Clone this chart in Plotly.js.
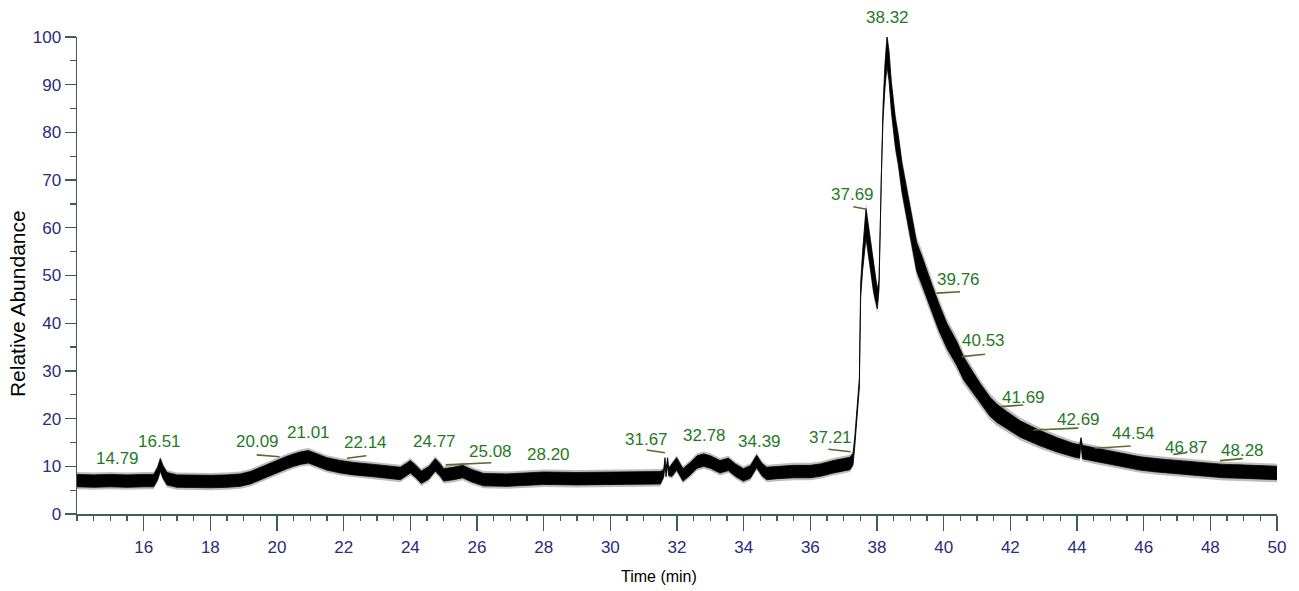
<!DOCTYPE html>
<html>
<head>
<meta charset="utf-8">
<script src="https://cdn.plot.ly/plotly-3.0.1.min.js"></script>
<style>html,body{margin:0;padding:0;background:#fff;}#chart{width:1299px;height:591px;}</style>
</head>
<body>
<div id="chart"></div>
<script>
// Retention time (min)
const time = [
  14.0,14.5,15.0,15.5,16.0,16.3,16.42,16.5,16.58,16.7,
  17.0,17.5,18.0,18.5,18.9,19.2,19.4,19.7,20.0,20.3,
  20.5,20.7,20.94,21.2,21.5,21.9,22.3,22.9,23.3,23.7,
  23.9,24.0,24.15,24.33,24.55,24.75,24.9,25.0,25.3,25.57,
  25.85,26.2,26.9,27.5,28.0,29.0,30.0,31.0,31.5,31.6,
  31.64,31.67,31.72,31.75,31.85,31.99,32.18,32.4,32.6,32.8,
  33.0,33.29,33.54,33.75,33.99,34.2,34.39,34.55,34.69,35.0,
  35.5,36.0,36.3,36.69,37.0,37.19,37.28,37.33,37.47,37.51,
  37.57,37.63,37.67,37.72,37.79,37.9,38.01,38.06,38.13,38.18,
  38.24,38.30,38.36,38.43,38.55,38.64,38.75,38.89,39.05,39.19,
  39.35,39.49,39.65,39.85,40.1,40.39,40.6,40.89,41.1,41.39,
  41.6,41.89,42.3,42.89,43.4,43.89,44.08,44.12,44.16,44.5,
  44.89,45.4,45.89,46.4,46.89,47.4,47.89,48.4,48.89,49.4,
  50.0];
// Relative abundance (centre of the noisy trace)
const abundance = [
  7.0,6.9,7.0,6.9,7.0,7.0,8.5,10.3,8.8,7.4,
  6.9,6.8,6.8,6.9,7.1,7.6,8.2,9.0,9.9,10.8,
  11.3,11.7,12.0,11.3,10.5,9.9,9.5,9.1,8.8,8.5,
  9.4,9.9,9.0,7.7,8.6,10.3,9.2,8.2,8.5,8.9,
  8.0,7.2,7.1,7.3,7.5,7.4,7.5,7.5,7.6,8.5,
  11.0,8.6,11.0,8.8,9.2,10.5,8.2,9.5,10.9,11.3,
  10.9,9.9,10.4,9.2,8.2,8.8,11.0,9.3,8.5,8.7,
  8.9,8.9,9.2,9.9,10.3,10.6,11.5,14.9,27.4,47.0,
  53.2,58.0,61.0,58.5,55.0,49.5,45.0,48.0,72.0,84.0,
  92.0,97.0,94.0,87.5,80.0,76.3,70.5,65.2,58.8,53.9,
  51.0,48.4,45.0,41.4,37.3,33.7,30.5,27.4,25.3,22.5,
  21.1,19.7,17.8,15.9,14.5,13.4,13.1,15.5,13.0,12.5,
  12.0,11.2,10.6,10.2,9.9,9.5,9.2,9.0,8.9,8.8,
  8.6];
// Half-thickness of the noise band
const noise = [
  1.3,1.3,1.3,1.3,1.3,1.3,1.3,1.3,1.3,1.3,
  1.3,1.3,1.3,1.3,1.3,1.3,1.3,1.3,1.3,1.3,
  1.3,1.3,1.3,1.3,1.3,1.3,1.3,1.3,1.3,1.3,
  1.3,1.3,1.3,1.3,1.3,1.3,1.3,1.3,1.3,1.3,
  1.3,1.3,1.3,1.3,1.3,1.3,1.3,1.3,1.3,0.8,
  0.8,0.8,0.8,0.8,1.3,1.3,1.3,1.3,1.3,1.3,
  1.3,1.3,1.3,1.3,1.3,1.3,1.3,1.3,1.3,1.3,
  1.3,1.3,1.3,1.3,1.3,1.3,1.2,1.0,1.0,1.5,
  2.0,3.0,3.0,3.0,3.0,3.0,2.0,1.0,1.0,1.5,
  2.5,3.0,3.0,3.0,3.0,3.0,3.0,3.0,3.0,3.0,
  3.0,3.0,3.0,2.8,2.6,2.5,2.4,2.2,2.0,2.0,
  1.9,1.8,1.7,1.6,1.5,1.4,1.4,0.5,1.4,1.4,
  1.4,1.4,1.4,1.4,1.4,1.4,1.4,1.4,1.4,1.4,
  1.4];

// Peak labels
const peakText = ["14.79","16.51","20.09","21.01","22.14","24.77","25.08","28.20","31.67","32.78","34.39","37.21","37.69","38.32","39.76","40.53","41.69","42.69","44.54","46.87","48.28"];
const labelX = [15.22,16.48,19.42,20.95,22.66,24.73,26.41,28.15,31.09,32.83,34.46,36.59,37.27,38.30,40.45,41.20,42.40,44.05,45.68,47.27,48.95];
const labelY = [11.7,15.3,15.3,17.0,14.9,15.1,13.0,12.4,15.7,16.4,15.3,16.1,66.9,104.0,49.1,36.3,24.5,19.9,16.8,14.0,13.4];
// Leader lines (start at retention time, end under label)
const leadX0 = [null,null,19.39,null,22.10,null,25.06,null,31.09,null,null,36.54,37.29,null,39.79,40.54,41.72,42.69,44.54,46.89,48.29];
const leadY0 = [null,null,12.4,null,11.7,null,10.3,null,13.4,null,null,13.56,64.4,null,46.3,33.0,22.5,17.6,13.77,12.5,11.2];
const leadX1 = [null,null,20.08,null,22.68,null,26.43,null,31.64,null,null,37.21,37.69,null,40.49,41.24,42.39,44.04,45.61,47.29,48.97];
const leadY1 = [null,null,12.0,null,12.2,null,10.75,null,12.85,null,null,13.06,63.9,null,46.6,33.5,22.85,18.0,14.26,12.85,11.6];

const xTickVals = [16,18,20,22,24,26,28,30,32,34,36,38,40,42,44,46,48,50];
const xMidTicks = [15,17,19,21,23,25,27,29,31,33,35,37,39,41,43,45,47,49];
const yTickVals = [0,10,20,30,40,50,60,70,80,90,100];

const FONT = "Liberation Sans, Arial, sans-serif";
const AXIS = "#3f5d5d";
const TICKC = "#2b2b80";
const Y_MAX = 100;

const outerLo = abundance.map((v,i)=>v-noise[i]*1.4);
const outerHi = abundance.map((v,i)=>v+noise[i]*1.4);
const innerLo = abundance.map((v,i)=>v-noise[i]);
const innerHi = abundance.map((v,i)=>v+noise[i]);

const traces = [
  {x:time,y:outerLo,type:'scatter',mode:'lines',line:{width:0,color:'rgba(0,0,0,0)'},hoverinfo:'skip',showlegend:false},
  {x:time,y:outerHi,type:'scatter',mode:'lines',fill:'tonexty',fillcolor:'rgba(90,90,90,0.4)',line:{width:0,color:'rgba(0,0,0,0)'},hoverinfo:'skip',showlegend:false},
  {x:time,y:innerLo,type:'scatter',mode:'lines',line:{width:0.8,color:'#000'},hoverinfo:'skip',showlegend:false},
  {x:time,y:innerHi,type:'scatter',mode:'lines',fill:'tonexty',fillcolor:'#000',line:{width:0.8,color:'#000'},showlegend:false}
];

const annotations = peakText.map((t,i)=>({
  x:labelX[i], y:labelY[i]/Y_MAX, xref:'x', yref:'paper', text:t, showarrow:false,
  xanchor:'center', yanchor:'middle', font:{family:FONT,size:17,color:'#1f7a1f'}
}));
annotations.push({x:-0.05,y:0.44,xref:'paper',yref:'paper',text:'Relative Abundance',textangle:-90,showarrow:false,
  xanchor:'center',yanchor:'middle',font:{family:FONT,size:21,color:'#000'}});
annotations.push({x:0.4854,y:-0.132,xref:'paper',yref:'paper',text:'Time (min)',showarrow:false,
  xanchor:'center',yanchor:'middle',font:{family:FONT,size:16,color:'#000'}});

const shapes = [];
peakText.forEach((t,i)=>{
  if (leadX0[i]!==null) shapes.push({type:'line',xref:'x',yref:'y',x0:leadX0[i],y0:leadY0[i],x1:leadX1[i],y1:leadY1[i],line:{color:'#5a6b2a',width:1.6}});
});

const layout = {
  width:1299, height:591,
  margin:{l:77,r:22,t:37,b:77},
  paper_bgcolor:'#fff', plot_bgcolor:'#fff',
  font:{family:FONT,color:'#000'},
  showlegend:false,
  xaxis:{
    range:[14,50], tickmode:'array', tickvals:xTickVals, ticks:'outside', ticklen:15, tickwidth:1.3, tickcolor:AXIS,
    showline:true, linecolor:AXIS, linewidth:1.5, showgrid:false, zeroline:false,
    tickfont:{family:FONT,size:17,color:TICKC}, ticklabelstandoff:2,
    minor:{dtick:0.5,tick0:14,ticks:'outside',ticklen:5,tickwidth:1.2,tickcolor:AXIS,showgrid:false}
  },
  xaxis2:{
    range:[14,50], overlaying:'x', anchor:'y', side:'bottom', tickmode:'array', tickvals:xMidTicks, ticks:'outside', ticklen:9, tickwidth:1.2, tickcolor:AXIS,
    showticklabels:false, showline:false, showgrid:false, zeroline:false
  },
  yaxis:{
    range:[0,Y_MAX], tickmode:'array', tickvals:yTickVals, ticks:'outside', ticklen:11, tickwidth:1.3, tickcolor:AXIS,
    showline:true, linecolor:AXIS, linewidth:1.5, showgrid:false, zeroline:false,
    tickfont:{family:FONT,size:17,color:TICKC},
    minor:{dtick:5,tick0:0,ticks:'outside',ticklen:6,tickwidth:1.2,tickcolor:AXIS,showgrid:false}
  },
  annotations:annotations,
  shapes:shapes
};

Plotly.newPlot('chart', traces, layout, {displayModeBar:false, staticPlot:true});
</script>
</body>
</html>
